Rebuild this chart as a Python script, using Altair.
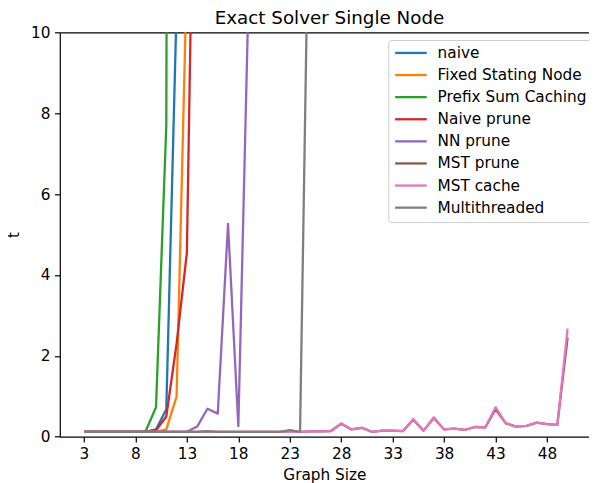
import altair as alt
import pandas as pd

series_names = ["naive", "Fixed Stating Node", "Prefix Sum Caching", "Naive prune",
                "NN prune", "MST prune", "MST cache", "Multithreaded"]
colors = ["#1f77b4", "#ff7f0e", "#2ca02c", "#d62728",
          "#9467bd", "#8c564b", "#e377c2", "#7f7f7f"]

naive_x = list(range(3, 13))
naive_t = [0.12, 0.12, 0.12, 0.12, 0.12, 0.12, 0.12, 0.18, 0.68, 10.6]

fixed_x = list(range(3, 14))
fixed_t = [0.12, 0.12, 0.12, 0.12, 0.12, 0.12, 0.12, 0.12, 0.18, 0.99, 11.5]

prefix_x = list(range(3, 13))
prefix_t = [0.12, 0.12, 0.12, 0.12, 0.12, 0.12, 0.14, 0.73, 7.7, 100.0]

nprune_x = list(range(3, 15))
nprune_t = [0.12, 0.12, 0.12, 0.12, 0.12, 0.12, 0.12, 0.16, 0.5, 2.3, 4.55, 20.0]

nn_x = list(range(3, 20))
nn_t = [0.12, 0.12, 0.12, 0.12, 0.12, 0.12, 0.12, 0.12, 0.12, 0.12, 0.12,
        0.25, 0.69, 0.57, 5.26, 0.26, 11.0]

mst_x = list(range(3, 51))
mst_prune_t = [0.12] * 22 + [0.13, 0.13, 0.14, 0.32, 0.18, 0.22, 0.12, 0.15, 0.15,
                             0.14, 0.42, 0.15, 0.46, 0.18, 0.2, 0.17, 0.24, 0.23, 0.68,
                             0.33, 0.25, 0.27, 0.35, 0.31, 0.29, 2.45]
mst_cache_t = [0.12] * 22 + [0.13, 0.13, 0.14, 0.33, 0.18, 0.22, 0.12, 0.15, 0.15,
                             0.14, 0.44, 0.15, 0.48, 0.18, 0.2, 0.17, 0.24, 0.23, 0.73,
                             0.33, 0.25, 0.27, 0.35, 0.31, 0.29, 2.67]

multi_x = list(range(3, 26))
multi_t = [0.12] * 12 + [0.14] + [0.12] * 7 + [0.16, 0.12, 16.0]

x_ticks = [3, 8, 13, 18, 23, 28, 33, 38, 43, 48]
y_ticks = [0, 2, 4, 6, 8, 10]

rows = []
for name, xs, ts in [
    (series_names[0], naive_x, naive_t),
    (series_names[1], fixed_x, fixed_t),
    (series_names[2], prefix_x, prefix_t),
    (series_names[3], nprune_x, nprune_t),
    (series_names[4], nn_x, nn_t),
    (series_names[5], mst_x, mst_prune_t),
    (series_names[6], mst_x, mst_cache_t),
    (series_names[7], multi_x, multi_t),
]:
    for xv, tv in zip(xs, ts):
        rows.append({"series": name, "x": xv, "t": tv})
df = pd.DataFrame(rows)

FONT = "DejaVu Sans"
FS = 15.3
TS = 18.3
TICK = 5.3
SW = 1.2

xscale = alt.Scale(domain=[0.65, 52.08], nice=False, zero=False)
yscale = alt.Scale(domain=[0, 10], nice=False, zero=False)

y_axis = alt.Axis(values=y_ticks, title="t", grid=False,
                  labelFontSize=FS, titleFontSize=FS, labelFont=FONT, titleFont=FONT,
                  titleFontWeight="normal", tickSize=TICK, tickWidth=SW,
                  domainWidth=SW, domainColor="black", tickColor="black",
                  labelColor="black", titleColor="black", labelPadding=4.5,
                  titlePadding=9.5, labelFlush=False)

lines = alt.Chart(df).mark_line(clip=True, strokeWidth=2.3, strokeJoin="round").encode(
    x=alt.X("x:Q", scale=xscale,
            axis=alt.Axis(values=x_ticks, title="Graph Size", grid=False,
                          labelFontSize=FS, titleFontSize=FS, labelFont=FONT, titleFont=FONT,
                          titleFontWeight="normal", tickSize=TICK, tickWidth=SW,
                          domainWidth=SW, domainColor="black", tickColor="black",
                          labelColor="black", titleColor="black", labelPadding=4.5,
                          titlePadding=6, labelFlush=False)),
    y=alt.Y("t:Q", scale=yscale, axis=y_axis),
    color=alt.Color("series:N", sort=series_names,
                    scale=alt.Scale(domain=series_names, range=colors),
                    legend=alt.Legend(orient="none", legendX=328.5, legendY=7.7, title=None,
                                      symbolType="M-2.5,0H2.5", symbolSize=160,
                                      symbolStrokeWidth=2.3, symbolOffset=9.7,
                                      labelFontSize=FS, labelFont=FONT,
                                      labelColor="black", padding=5.3,
                                      strokeColor="#cccccc", fillColor="rgba(255,255,255,0.8)",
                                      cornerRadius=3, rowPadding=6.1, labelOffset=19.0)),
    detail="series:N",
)

top = alt.Chart(df).mark_line(opacity=0, clip=True).encode(
    x=alt.X("x:Q", scale=xscale,
            axis=alt.Axis(orient="top", labels=False, ticks=False, grid=False,
                          domainWidth=SW, domainColor="black",
                          title="Exact Solver Single Node", titleFontSize=TS, titleFont=FONT,
                          titleFontWeight="normal", titleColor="black",
                          titleX=269.2, titleY=-9.3, titleBaseline="alphabetic",
                          titleAlign="center", titleAngle=0)),
    y=alt.Y("t:Q", scale=yscale, axis=y_axis),
    detail="series:N",
)

chart = alt.layer(lines, top).resolve_axis(x="independent").properties(
    width=529.2,
    height=404.4,
    padding={"left": 51.8, "top": 24.3, "right": 0, "bottom": 46.3},
    autosize=alt.AutoSizeParams(type="none"),
).configure_view(stroke=None)

chart.save("out.html", embed_options={"renderer": "svg", "actions": False})
